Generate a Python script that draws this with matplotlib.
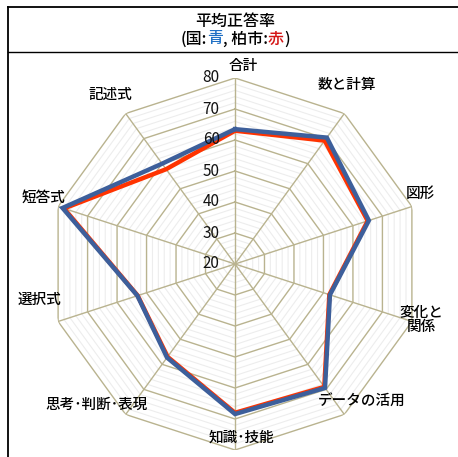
import numpy as np
import matplotlib
matplotlib.use("Agg")
import matplotlib.pyplot as plt
from matplotlib.lines import Line2D
from matplotlib.offsetbox import TextArea, HPacker, AnnotationBbox

plt.rcParams['font.family'] = ['Noto Sans CJK JP', 'DejaVu Sans']

# ---- data ----
categories = ['合計', '数と計算', '図形', '変化と\n関係', 'データの活用',
              '知識･技能', '思考･判断･表現', '選択式', '短答式', '記述式']
national = [63.5, 70.4, 65.4, 52.2, 69.4, 68.4, 57.3, 53.1, 78.5, 60.0]   # 国 (青)
kashiwa = [63.0, 69.2, 65.0, 52.0, 69.0, 68.0, 57.0, 53.0, 78.0, 57.8]    # 柏市 (赤)
major_ticks = [20, 30, 40, 50, 60, 70, 80]
minor_ticks = [v for v in range(20, 81, 2) if v % 10 != 0]

# ---- layout / style ----
W, H = 458, 457
fig = plt.figure(figsize=(W / 100, H / 100), dpi=100)
cx, cy, R = 235, 264, 186
ax = fig.add_axes([(cx - R) / W, 1 - (cy + R) / H, 2 * R / W, 2 * R / H],
                  projection='polar')
ax.set_theta_zero_location('N')
ax.set_theta_direction(-1)
ax.set_ylim(major_ticks[0], major_ticks[-1])
ax.set_axis_off()

n = len(categories)
theta = np.arange(n) * 2 * np.pi / n
theta_c = np.append(theta, theta[0])

grid_major = '#B9B38F'
grid_minor = '#EDEDED'

for r in minor_ticks:
    ax.plot(theta_c, [r] * (n + 1), color=grid_minor, lw=0.8, zorder=1)
for r in major_ticks[1:]:
    ax.plot(theta_c, [r] * (n + 1), color=grid_major, lw=1.0, zorder=2)
for t in theta:
    ax.plot([t, t], [major_ticks[0], major_ticks[-1]], color=grid_major, lw=1.0, zorder=2)

# series
ax.plot(theta_c, kashiwa + kashiwa[:1], color='#FF3300', lw=3.2, zorder=4,
        solid_joinstyle='miter')
ax.plot(theta_c, national + national[:1], color='#3D5F9B', lw=3.2, zorder=5,
        solid_joinstyle='miter')

# radial tick labels
for r in major_ticks:
    ax.annotate(str(r), xy=(0, r), xytext=(-11, 0), textcoords='offset points',
                ha='right', va='center', fontsize=11, color='#111111', zorder=6)

# category labels (offsets in pixels from the outer vertex)
offsets_px = [(8, 12), (3, 29), (8, 13), (9, 1.5), (17, 13),
              (6, 12.5), (-29, 9.5), (-19, 21.5), (-15, 8.5), (-15, 18.5)]
for t, lab, (dx, dy) in zip(theta, categories, offsets_px):
    ax.annotate(lab, xy=(t, major_ticks[-1]), xytext=(dx * 0.72, dy * 0.72),
                textcoords='offset points', ha='center', va='center',
                fontsize=10.5, color='black', linespacing=1.05, zorder=7,
                fontweight='medium', annotation_clip=False)

# title
fig.text(cx / W, 1 - 21 / H, '平均正答率', ha='center', va='center',
         fontsize=11.5, color='black', fontweight='medium')
parts = [('(国:', 'black'), ('青', '#1F6FC4'), (', 柏市:', 'black'),
         ('赤', '#D41515'), (')', 'black')]
boxes = [TextArea(s, textprops=dict(color=c, fontsize=11.5, fontweight='medium',
                                    family=['Noto Sans CJK JP', 'DejaVu Sans']))
         for s, c in parts]
pack = HPacker(children=boxes, align='baseline', pad=0, sep=0)
ab = AnnotationBbox(pack, (cx / W, 1 - 39 / H), xycoords='figure fraction',
                    box_alignment=(0.5, 0.5), frameon=False, pad=0)
fig.add_artist(ab)

# frame lines
def fx(px):
    return px / W

def fy(py):
    return 1 - py / H

fig.add_artist(Line2D([fx(7.5), fx(7.5)], [fy(6.5), fy(H)], color='black', lw=1.3))
fig.add_artist(Line2D([fx(7.5), fx(W)], [fy(6.5), fy(6.5)], color='black', lw=1.3))
fig.add_artist(Line2D([fx(7.5), fx(W)], [fy(52), fy(52)], color='black', lw=1.0))

fig.savefig('out.png', dpi=100)
